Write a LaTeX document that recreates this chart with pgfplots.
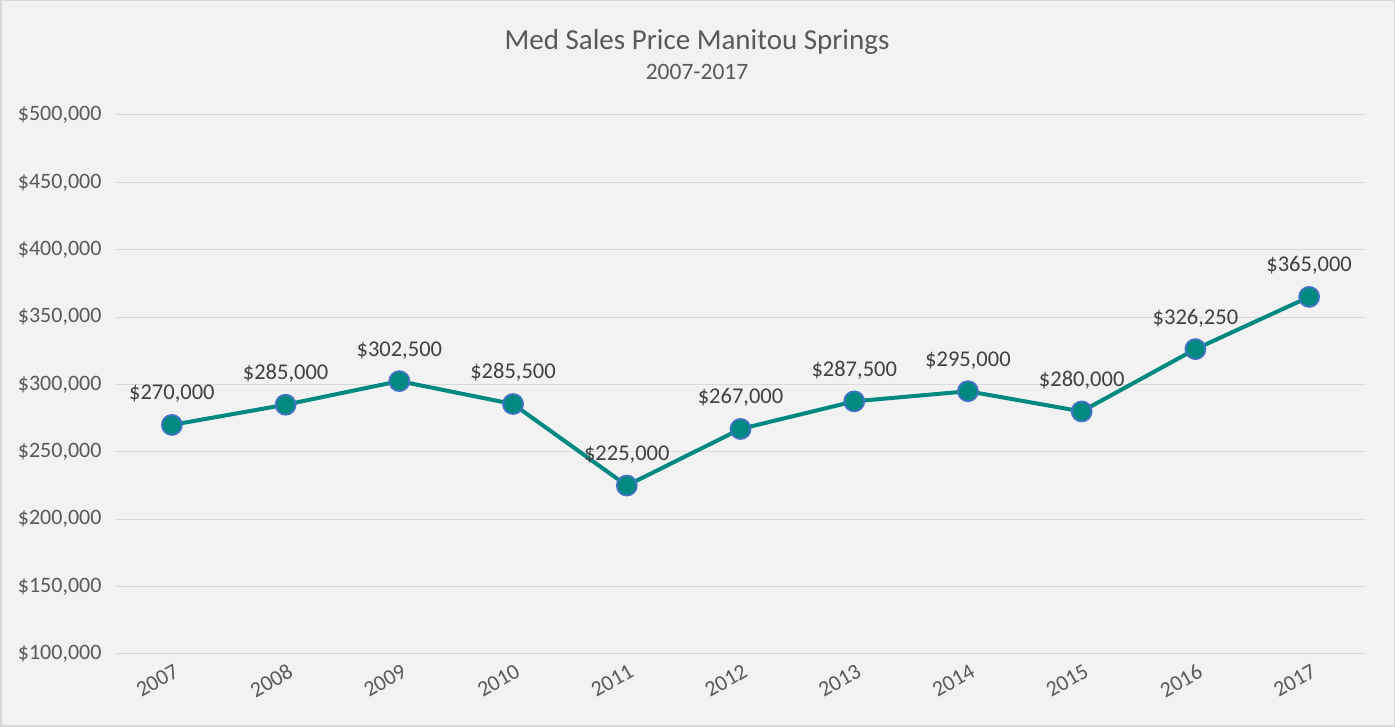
\documentclass[border=0pt]{standalone}
\usepackage{fontspec}
\setmainfont{Carlito}
\usepackage{pgfplots}
\pgfplotsset{compat=1.18}

\definecolor{bgc}{RGB}{242,242,242}
\definecolor{bordc}{RGB}{217,217,217}
\definecolor{gridc}{RGB}{217,217,217}
\definecolor{txtc}{RGB}{89,89,89}
\definecolor{lblc}{RGB}{64,64,64}
\definecolor{linec}{RGB}{0,137,128}
\definecolor{markc}{RGB}{68,114,196}

\begin{document}
\begin{tikzpicture}[x=1pt,y=1pt]
\fill[bgc] (0,0) rectangle (1395,727);
\draw[bordc,line width=1.5pt] (0.75,0.75) rectangle (1394.25,726.25);
\node[font=\fontsize{29}{34}\selectfont,text=txtc] at (697,685) {Med Sales Price Manitou Springs};
\node[font=\fontsize{23.5}{28}\selectfont,text=txtc] at (697,655) {2007-2017};
\begin{axis}[
  at={(115pt,73pt)}, anchor=south west,
  scale only axis,
  width=1251pt, height=539pt,
  xmin=-0.5, xmax=10.5,
  ymin=100000, ymax=500000,
  ytick={100000,150000,...,500000},
  xtick={0,...,10},
  xticklabels={2007,2008,2009,2010,2011,2012,2013,2014,2015,2016,2017},
  scaled y ticks=false,
  axis line style={draw=none},
  major tick style={draw=none},
  ymajorgrids,
  grid style={gridc,line width=1pt},
  /pgf/number format/assume math mode=true,
  yticklabel={\$\pgfmathprintnumber[fixed,precision=0,1000 sep={,}]{\tick}},
  yticklabel style={font=\fontsize{22}{26}\selectfont,text=txtc,xshift=-10pt},
  xticklabel style={font=\fontsize{22}{26}\selectfont,text=txtc,rotate=30,anchor=north east,yshift=-5pt},
  clip=false,
  nodes near coords={\$\pgfmathprintnumber[fixed,precision=0,1000 sep={,}]{\pgfplotspointmeta}},
  nodes near coords style={font=\fontsize{22.5}{26}\selectfont,text=lblc,anchor=south,yshift=18pt},
  point meta=y,
]
\addplot[linec,line width=4pt,mark=*,mark size=10pt,
  mark options={fill=linec,draw=markc,line width=1.8pt}]
  coordinates {
  (0,270000) (1,285000) (2,302500) (3,285500) (4,225000) (5,267000)
  (6,287500) (7,295000) (8,280000) (9,326250) (10,365000)
  };
\end{axis}
\end{tikzpicture}
\end{document}
